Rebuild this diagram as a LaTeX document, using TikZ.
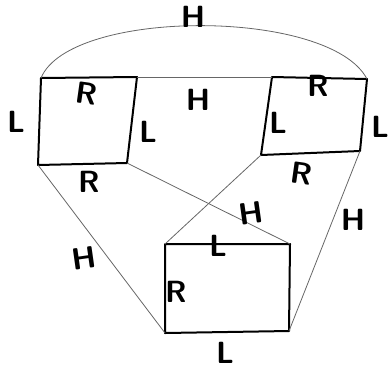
\documentclass[tikz,border=0pt]{standalone}
\usepackage{tikz}
\usetikzlibrary{positioning}

\begin{document}
\begin{tikzpicture}[x=0.75pt,y=-0.75pt,
                face/.style={draw, line width=1.5pt, line join=round},
                link/.style={draw=black!60, line width=0.6pt},
                every node/.style={font=\sffamily\bfseries\fontsize{23}{24}\selectfont, inner sep=0pt},]
            \useasboundingbox (0,0) rectangle (391,368);
            % left face
            \coordinate (a1) at (41,78);
            \coordinate (a2) at (137,77);
            \coordinate (a3) at (127,163);
            \coordinate (a4) at (38,165);
            % right face
            \coordinate (b1) at (272,77);
            \coordinate (b2) at (367,79);
            \coordinate (b3) at (360,151);
            \coordinate (b4) at (261,155);
            % bottom face
            \coordinate (c1) at (165,244);
            \coordinate (c2) at (290,244);
            \coordinate (c3) at (289,331);
            \coordinate (c4) at (165,333);
            \path[face] (a1) -- (a2) -- (a3) -- (a4) -- cycle;
            \path[face] (b1) -- (b2) -- (b3) -- (b4) -- cycle;
            \path[face] (c1) -- (c2) -- (c3) -- (c4) -- cycle;
            % links
            \path[link] (a1) .. controls (70,8) and (330,8) .. (b2);
            \path[link] (a2) -- (b1);
            \path[link] (a4) -- (c4);
            \path[link] (a3) -- (c2);
            \path[link] (b4) -- (c1);
            \path[link] (b3) -- (c3);
            % labels
            \node (h1) at (193,17) {H};
            \node (h2) at (198,100) {H};
            \node[rotate=8] (h3) at (84,258) {H};
            \node[rotate=8] (h4) at (251,213) {H};
            \node (h5) at (353,220) {H};
            \node (l1) at (16,122) {L};
            \node[rotate=-8] (r1) at (87,93) {R};
            \node (l2) at (148,132) {L};
            \node (r2) at (89,182) {R};
            \node (r3) at (318,86) {R};
            \node (l3) at (278,123) {L};
            \node (l4) at (380,127) {L};
            \node[rotate=-8] (r4) at (302,173) {R};
            \node (l5) at (218,246) {L};
            \node (r5) at (176,292) {R};
            \node (l6) at (225,353) {L};
        \end{tikzpicture}
\end{document}
